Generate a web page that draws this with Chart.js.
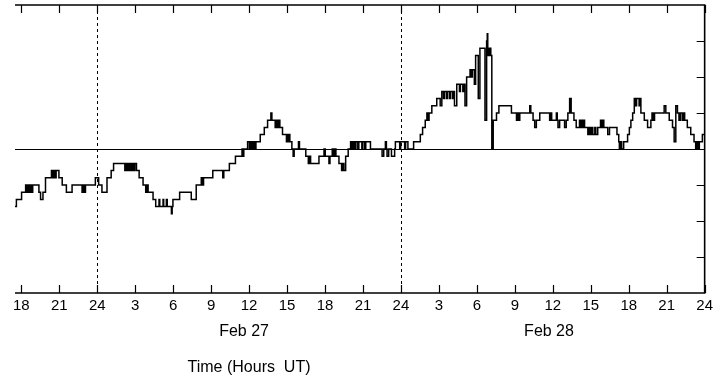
<!DOCTYPE html>
<html>
<head>
<meta charset="utf-8">
<script src="https://cdn.jsdelivr.net/npm/chart.js@4"></script>
<style>
  html, body { margin: 0; padding: 0; background: #fff; }
  canvas { display: block; }
</style>
</head>
<body>
<canvas id="chart" width="717" height="379"></canvas>
<script>
// hours counted from Feb 26 00:00 UT; each entry is where the trace steps to a new value
const changeHours = [
  17.5, 17.61, 18.02, 18.34, 18.43, 18.51, 18.63, 18.71, 18.83, 18.90,
  19.39, 19.52, 19.71, 19.91, 20.38, 20.48, 20.56, 20.68, 20.75, 20.97,
  21.23, 21.56, 22.01, 22.80, 22.88, 23.00, 23.07, 23.85, 24.11, 24.37,
  24.77, 25.10, 25.29, 26.18, 26.30, 26.42, 26.54, 26.65, 26.77, 26.89,
  26.97, 27.10, 27.31, 27.62, 27.83, 27.91, 28.02, 28.41, 28.62, 28.88,
  28.94, 29.20, 29.25, 29.46, 29.53, 29.86, 29.92, 29.98, 30.51, 31.43,
  31.82, 32.22, 32.32, 32.40, 33.13, 33.92, 34.00, 34.44, 34.92, 35.44,
  35.51, 35.58, 35.88, 36.02, 36.14, 36.25, 36.37, 36.45, 36.54, 36.88,
  37.20, 37.46, 37.72, 37.80, 38.06, 38.18, 38.30, 38.38, 38.43, 38.64,
  38.95, 39.05, 39.13, 39.17, 39.22, 39.38, 39.48, 39.56, 39.90, 39.98,
  40.48, 40.68, 40.78, 40.86, 41.52, 41.92, 42.02, 42.31, 42.39, 42.57,
  42.67, 42.78, 42.86, 43.10, 43.31, 43.41, 43.49, 43.63, 43.83, 44.02,
  44.12, 44.20, 44.32, 44.44, 44.59, 44.67, 44.91, 44.99, 45.14, 45.22,
  45.59, 46.51, 46.64, 46.77, 46.85, 46.90, 47.03, 47.25, 47.50, 47.56,
  47.90, 47.98, 48.29, 48.37, 48.55, 49.00, 49.53, 49.71, 49.92, 50.05,
  50.14, 50.22, 50.44, 50.83, 51.10, 51.23, 51.36, 51.44, 51.60, 51.67,
  51.83, 51.91, 52.07, 52.15, 52.23, 52.41, 52.62, 52.70, 52.89, 52.97,
  53.06, 53.19, 53.46, 53.56, 53.64, 53.80, 53.90, 54.11, 54.24, 54.64,
  54.77, 54.82, 54.86, 54.98, 55.10, 55.18, 55.29, 55.55, 55.74, 56.73,
  57.13, 57.22, 57.30, 57.39, 58.18, 58.26, 58.44, 58.57, 58.70, 58.97,
  59.75, 59.83, 59.91, 60.28, 60.35, 60.41, 60.54, 60.93, 61.06, 61.19,
  61.33, 61.45, 61.67, 61.85, 62.11, 62.21, 62.29, 62.41, 62.45, 62.51,
  62.77, 62.89, 62.96, 63.08, 63.16, 63.32, 63.40, 63.55, 63.77, 63.87,
  63.95, 64.03, 64.34, 64.48, 65.07, 65.21, 65.26, 65.36, 65.44, 65.60,
  65.91, 66.05, 66.17, 66.31, 66.44, 66.54, 66.62, 66.82, 66.90, 66.96,
  67.23, 67.49, 67.75, 67.84, 67.92, 68.04, 68.80, 68.93, 69.20, 69.46,
  69.59, 69.72, 69.85, 69.97, 70.09, 70.24, 70.32, 70.42, 70.63, 70.90,
  71.16, 71.29, 71.38, 71.50, 71.58, 71.82, 72
];
const traceValues = [
  -1.6, -1.4, -1.2, -1.0, -1.2, -1.0, -1.2, -1.0, -1.2, -1.0,
  -1.2, -1.4, -1.2, -0.8, -0.6, -0.8, -0.6, -0.8, -0.6, -0.8,
  -1.0, -1.2, -1.0, -1.2, -1.0, -1.2, -1.0, -0.8, -1.0, -1.2,
  -0.8, -0.6, -0.4, -0.6, -0.4, -0.6, -0.4, -0.6, -0.4, -0.6,
  -0.4, -0.6, -0.8, -1.0, -1.2, -1.0, -1.2, -1.4, -1.6, -1.4,
  -1.6, -1.4, -1.6, -1.4, -1.6, -1.8, -1.6, -1.4, -1.2, -1.4,
  -1.0, -0.8, -1.0, -0.8, -0.6, -0.8, -0.6, -0.4, -0.2, 0,
  -0.2, 0, 0.2, 0, 0.2, 0, 0.2, 0, 0.2, 0.4,
  0.6, 0.8, 1.0, 0.8, 0.6, 0.8, 0.6, 0.8, 0.6, 0.4,
  0.2, 0.4, 0.2, 0.4, 0.2, 0, -0.2, 0, 0.2, 0,
  -0.2, -0.4, -0.2, -0.4, -0.2, 0, -0.2, -0.4, -0.2, 0,
  -0.2, 0, -0.2, -0.4, -0.6, -0.4, -0.6, -0.2, 0, 0.2,
  0, 0.2, 0, 0.2, 0, 0.2, 0, 0.2, 0, 0.2,
  0, -0.2, 0, 0.2, 0, -0.2, 0, -0.2, 0, 0.2,
  0, 0.2, 0, 0.2, 0, 0.2, 0.4, 0.6, 0.8, 1.0,
  0.8, 1.0, 1.2, 1.4, 1.2, 1.6, 1.4, 1.6, 1.4, 1.6,
  1.4, 1.6, 1.4, 1.6, 1.2, 1.8, 1.6, 1.8, 1.6, 1.8,
  1.2, 2.0, 2.2, 2.0, 2.2, 1.8, 2.6, 1.4, 2.8, 0.8,
  3.0, 3.2, 2.6, 2.8, 2.6, 0, 0.8, 1.0, 1.2, 1.0,
  0.8, 1.0, 0.8, 1.0, 1.2, 1.0, 0.8, 0.6, 0.8, 1.0,
  0.8, 1.0, 0.8, 1.0, 0.8, 0.6, 0.8, 0.6, 0.8, 1.0,
  1.4, 1.0, 0.8, 0.6, 0.8, 0.6, 0.8, 0.6, 0.8, 0.6,
  0.4, 0.6, 0.4, 0.6, 0.4, 0.6, 0.4, 0.6, 0.8, 0.6,
  0.8, 0.6, 0.4, 0.6, 0.4, 0.2, 0, 0.2, 0, 0.2,
  0.4, 0.6, 0.8, 1.0, 1.4, 1.2, 1.4, 1.2, 1.4, 1.0,
  0.8, 0.6, 0.8, 1.0, 0.8, 1.0, 1.2, 1.0, 0.8, 0.6,
  0.2, 1.2, 1.0, 0.8, 1.0, 0.8, 1.0, 0.8, 0.6, 0.4,
  0.2, 0, 0.2, 0, 0.2, 0.4, 0.4
];

const tickHours = [18, 21, 24, 27, 30, 33, 36, 39, 42, 45, 48, 51, 54, 57, 60, 63, 66, 69, 72];
const rightTicks = [-3, -2, -1, 0, 1, 2, 3];
const dayBreaks = [24, 48];
const dayLabels = ['Feb 27', 'Feb 28'];
const dayLabelHours = [35.6, 59.7];
const axisTitle = 'Time (Hours  UT)';

const FONT = '"Liberation Sans", Arial, Helvetica, sans-serif';

// frame, inward ticks, zero line, day separators and lower captions
const framePlugin = {
  id: 'frame',
  beforeDatasetsDraw(chart) {
    const { ctx, chartArea: a, scales: { x, y } } = chart;
    ctx.save();
    ctx.strokeStyle = '#000';
    ctx.lineWidth = 1.2;
    const y0 = Math.round(y.getPixelForValue(0)) + 0.5;
    ctx.beginPath();
    ctx.moveTo(a.left, y0);
    ctx.lineTo(a.right, y0);
    ctx.stroke();

    ctx.lineWidth = 1;
    ctx.setLineDash([3, 3]);
    dayBreaks.forEach(h => {
      const px = Math.round(x.getPixelForValue(h)) + 0.5;
      ctx.beginPath();
      ctx.moveTo(px, a.top);
      ctx.lineTo(px, a.bottom);
      ctx.stroke();
    });
    ctx.restore();
  },
  afterDraw(chart) {
    const { ctx, chartArea: a, scales: { x, y } } = chart;
    const tl = 8;
    ctx.save();
    ctx.strokeStyle = '#000';
    ctx.lineWidth = 1.6;
    ctx.beginPath();
    ctx.moveTo(a.left, a.top);
    ctx.lineTo(a.right, a.top);
    ctx.lineTo(a.right, a.bottom);
    ctx.lineTo(a.left, a.bottom);
    ctx.stroke();

    ctx.lineWidth = 1.2;
    ctx.beginPath();
    tickHours.forEach(h => {
      const px = Math.round(x.getPixelForValue(h)) + 0.5;
      ctx.moveTo(px, a.top);
      ctx.lineTo(px, a.top + tl);
      ctx.moveTo(px, a.bottom);
      ctx.lineTo(px, a.bottom - tl);
    });
    rightTicks.forEach(v => {
      const py = Math.round(y.getPixelForValue(v)) + 0.5;
      ctx.moveTo(a.right, py);
      ctx.lineTo(a.right - tl, py);
    });
    ctx.stroke();

    ctx.fillStyle = '#000';
    ctx.font = '16px ' + FONT;
    ctx.textAlign = 'center';
    ctx.textBaseline = 'middle';
    dayLabels.forEach((t, i) => {
      ctx.fillText(t, x.getPixelForValue(dayLabelHours[i]), a.bottom + 39);
    });
    ctx.fillText(axisTitle, x.getPixelForValue(dayLabelHours[0]) + 5, a.bottom + 75);
    ctx.restore();
  }
};

new Chart(document.getElementById('chart'), {
  type: 'line',
  data: {
    datasets: [{
      data: changeHours.map((h, i) => ({ x: h, y: traceValues[i] })),
      borderColor: '#000',
      borderWidth: 1.5,
      pointRadius: 0,
      stepped: true,
      fill: false
    }]
  },
  options: {
    responsive: false,
    animation: false,
    devicePixelRatio: 1,
    layout: { padding: { left: 15, top: 5, right: 0, bottom: 0 } },
    plugins: { legend: { display: false }, tooltip: { enabled: false } },
    scales: {
      x: {
        type: 'linear',
        position: 'bottom',
        min: 17.5,
        max: 72,
        afterBuildTicks: scale => { scale.ticks = tickHours.map(v => ({ value: v })); },
        afterFit: scale => { scale.height = 86; },
        grid: { display: false, drawTicks: false },
        border: { display: false },
        ticks: {
          autoSkip: false,
          maxRotation: 0,
          padding: 4,
          color: '#000',
          font: { family: FONT, size: 15 },
          callback: v => (v % 24 === 0 ? '24' : String(v % 24))
        }
      },
      y: {
        type: 'linear',
        position: 'right',
        min: -4,
        max: 4,
        afterFit: scale => { scale.width = 10; },
        grid: { display: false, drawTicks: false },
        border: { display: false },
        ticks: { display: false }
      }
    }
  },
  plugins: [framePlugin]
});
</script>
</body>
</html>
